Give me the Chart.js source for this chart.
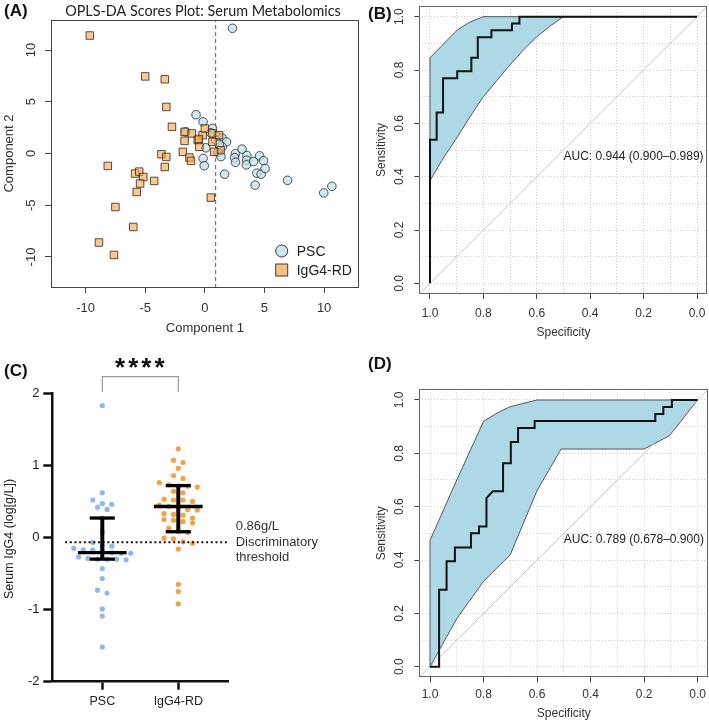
<!DOCTYPE html>
<html><head><meta charset="utf-8">
<script src="https://cdn.jsdelivr.net/npm/chart.js@4.4.0/dist/chart.umd.min.js"></script>
<style>
html,body{margin:0;padding:0;background:#fff;width:709px;height:720px;overflow:hidden;position:relative}
canvas{position:absolute}
</style></head><body>
<canvas id="cA" width="365" height="345" style="left:0;top:0"></canvas>
<canvas id="cB" width="349" height="345" style="left:360px;top:0"></canvas>
<canvas id="cC" width="360" height="380" style="left:0;top:340px"></canvas>
<canvas id="cD" width="349" height="380" style="left:360px;top:340px"></canvas>
<script>
// ---------------- DATA ----------------
// (A) OPLS-DA scores [component1, component2]
const pscScores = [[2.32,12.1],[-0.74,3.75],[-0.15,3.06],[-1.62,2.09],[0.64,2.42],[1.05,1.61],[1.45,1.5],[1.82,1.12],
  [1.46,0.64],[0.08,0.55],[1.1,0.1],[1.35,-0.3],[-0.15,-0.48],[-0.05,-1.18],[1.66,-2.0],[2.57,0.0],[3.12,0.42],
  [2.5,-0.4],[2.57,-0.85],[3.53,-0.2],[3.5,-0.65],[3.48,-1.1],[4.09,-0.78],[4.59,-0.23],[4.92,-0.7],[4.36,-1.9],
  [4.72,-2.0],[5.05,-1.45],[4.22,-3.05],[6.93,-2.59],[9.97,-3.81],[10.65,-3.17],[0.9,1.3],[1.2,0.9],[0.5,2.0]];
const igg4Scores = [[-9.65,11.4],[-5.0,7.45],[-3.36,7.17],[-3.23,4.5],[-2.76,2.58],[-1.7,2.09],[-1.1,1.94],[-0.19,1.77],
  [-0.6,1.29],[-0.5,1.4],[-1.7,1.22],[0.0,2.42],[0.64,1.94],[1.19,1.77],[0.64,1.12],[1.32,0.32],[0.78,0.16],
  [-0.46,0.64],[-1.85,0.16],[-1.29,-0.39],[-1.16,-0.71],[-3.64,-0.07],[-3.23,-0.33],[-3.36,-1.3],[-8.14,-1.2],
  [-5.85,-1.94],[-5.5,-1.75],[-5.16,-2.27],[-5.43,-2.9],[-4.25,-2.65],[-5.71,-3.72],[0.5,-4.26],[-7.5,-5.17],
  [-6.0,-7.1],[-8.88,-8.6],[-7.62,-9.8]];
const scoreTicks = [-10, -5, 0, 5, 10];
const scoreCutoffX = 0.9;

// (B) ROC serum metabolomics: [specificity, sensitivity]
const rocB = [[1,0],[1,0.538],[0.975,0.538],[0.975,0.641],[0.951,0.641],[0.951,0.769],[0.898,0.769],[0.898,0.795],
  [0.845,0.795],[0.845,0.846],[0.821,0.846],[0.821,0.923],[0.77,0.923],[0.77,0.949],[0.693,0.949],[0.693,0.974],
  [0.665,0.974],[0.665,1.0],[0,1.0]];
const ciB_upper = [[1,0.846],[0.898,0.95],[0.85,0.98],[0.8,1.0],[0,1.0]];
const ciB_lower = [[1,0.385],[0.95,0.47],[0.9,0.545],[0.85,0.625],[0.8,0.70],[0.75,0.76],[0.7,0.82],[0.65,0.875],
  [0.6,0.925],[0.55,0.965],[0.5,1.0],[0,1.0]];
const aucB = 'AUC: 0.944 (0.900\u20130.989)';

// (D) ROC serum IgG4
const rocD = [[1,0],[0.966,0],[0.966,0.289],[0.938,0.289],[0.938,0.395],[0.907,0.395],[0.907,0.447],[0.847,0.447],
  [0.847,0.5],[0.817,0.5],[0.817,0.526],[0.789,0.526],[0.789,0.632],[0.765,0.658],[0.727,0.658],[0.727,0.763],
  [0.698,0.763],[0.698,0.842],[0.671,0.842],[0.671,0.895],[0.609,0.895],[0.609,0.921],[0.158,0.921],[0.158,0.947],
  [0.128,0.947],[0.128,0.974],[0.096,0.974],[0.096,1.0],[0,1.0]];
const ciD_upper = [[1,0.474],[0.9,0.70],[0.8,0.92],[0.74,0.956],[0.7,0.975],[0.6,1.0],[0,1.0]];
const ciD_lower = [[1,0],[0.9,0.18],[0.8,0.32],[0.7,0.42],[0.6,0.66],[0.51,0.816],[0.2,0.816],[0.105,0.866],[0,1.0]];
const aucD = 'AUC: 0.789 (0.678\u20130.900)';
const rocGrid = [0,0.1,0.2,0.3,0.4,0.5,0.6,0.7,0.8,0.9,1.0];
const rocTickLabels = ['0.0','0.2','0.4','0.6','0.8','1.0'];

// (C) serum IgG4 log10(g/L)
const groups = ['PSC', 'IgG4-RD'];
const pscIgG4 = [1.83,0.62,0.52,0.47,0.46,0.42,0.39,0.27,0.07,-0.07,-0.11,-0.12,-0.15,-0.17,-0.17,-0.18,-0.21,-0.22,
  -0.22,-0.27,-0.29,-0.30,-0.30,-0.30,-0.31,-0.43,-0.57,-0.73,-0.77,-0.99,-1.09,-1.52];
const rdIgG4 = [1.23,1.07,1.04,0.96,0.86,0.82,0.76,0.73,0.71,0.71,0.70,0.64,0.62,0.53,0.52,0.52,0.50,0.45,0.43,0.42,
  0.39,0.38,0.33,0.32,0.31,0.27,0.25,0.24,0.22,0.20,0.13,0.08,0.07,-0.01,-0.02,-0.06,-0.08,-0.16,-0.65,-0.75,-0.92];
const groupMedian = [-0.21, 0.43];
const groupLow = [-0.30, 0.08];
const groupHigh = [0.27, 0.72];
const igg4Threshold = -0.066; // log10(0.86 g/L)
const cTicks = [-2, -1, 0, 1, 2];

// ---------------- HELPERS ----------------
const FF = '"Liberation Sans", Arial, Helvetica, sans-serif';
Chart.defaults.font.family = FF;
function T(ctx, s, x, y, font, color, align, base, rot, spacing) {
  ctx.save(); ctx.translate(x, y); if (rot) ctx.rotate(rot);
  ctx.font = font; ctx.fillStyle = color || '#222';
  if (spacing) ctx.letterSpacing = spacing;
  ctx.textAlign = align || 'center'; ctx.textBaseline = base || 'middle';
  ctx.fillText(s, 0, 0); ctx.restore();
}
const fixedTicks = arr => s => { s.ticks = arr.map(v => ({value: v})); };
const pts = arr => arr.map(([x, y]) => ({x, y}));
function baseOpts(padding, scales) {
  return {responsive: false, animation: false, devicePixelRatio: 1, events: [],
    layout: {padding}, plugins: {legend: {display: false}, tooltip: {enabled: false}}, scales};
}
function swarm(values, center, bin, step) {
  const s = values.slice().sort((a, b) => b - a); const out = []; let i = 0;
  while (i < s.length) {
    const start = s[i]; const g = [];
    while (i < s.length && start - s[i] < bin) { g.push(s[i]); i++; }
    g.forEach((v, k) => out.push({x: center + (k - (g.length - 1) / 2) * step, y: v}));
  }
  return out;
}

// ---------------- (A) ----------------
new Chart(document.getElementById('cA'), {
  type: 'scatter',
  data: {datasets: [
    {data: pts(igg4Scores), pointStyle: 'rect', pointRadius: 5.3, backgroundColor: 'rgba(255,166,64,0.62)', borderColor: 'rgba(40,40,40,0.8)', borderWidth: 1},
    {data: pts(pscScores), pointStyle: 'circle', pointRadius: 4.3, backgroundColor: 'rgba(190,226,238,0.72)', borderColor: 'rgba(40,40,40,0.8)', borderWidth: 1},
    {data: [{x: scoreCutoffX, y: -13}, {x: scoreCutoffX, y: 13}], showLine: true, pointRadius: 0, borderColor: '#777', borderWidth: 1.2, borderDash: [4, 3]}
  ]},
  options: baseOpts({top: 20, right: 2, left: 0, bottom: 0}, {
    x: {type: 'linear', min: -12.9, max: 12.9, afterBuildTicks: fixedTicks(scoreTicks), afterFit: s => { s.height = 58; },
        ticks: {display: false}, grid: {drawOnChartArea: false, tickLength: 6, tickColor: '#444', tickWidth: 1}, border: {display: false}},
    y: {type: 'linear', min: -12.9, max: 12.9, afterBuildTicks: fixedTicks(scoreTicks), afterFit: s => { s.width = 51; },
        ticks: {display: false}, grid: {drawOnChartArea: false, tickLength: 6, tickColor: '#444', tickWidth: 1}, border: {display: false}}
  }),
  plugins: [{id: 'decA', afterDraw(ch) {
    const c = ch.ctx, a = ch.chartArea, xs = ch.scales.x, ys = ch.scales.y;
    c.save(); c.strokeStyle = '#444'; c.lineWidth = 1;
    c.strokeRect(Math.round(a.left) + 0.5, Math.round(a.top) + 0.5, Math.round(a.right - a.left) - 1, Math.round(a.bottom - a.top)); c.restore();
    const f = '13px ' + FF;
    scoreTicks.forEach(v => {
      T(c, String(v), xs.getPixelForValue(v), a.bottom + 21.3, f, '#333');
      T(c, String(v), a.left - 19.3, ys.getPixelForValue(v), f, '#333', 'center', 'middle', -Math.PI / 2);
    });
    T(c, 'Component 1', (a.left + a.right) / 2, 328, f, '#333');
    T(c, 'Component 2', 9, (a.top + a.bottom) / 2, f, '#333', 'center', 'middle', -Math.PI / 2);
    T(c, 'OPLS-DA Scores Plot: Serum Metabolomics', 203, 11, '14.4px Lato, ' + FF, '#222');
    T(c, '(A)', 4, 11, 'bold 17px ' + FF, '#111', 'left');
    // legend
    c.save(); c.lineWidth = 1; c.strokeStyle = 'rgba(40,40,40,0.9)';
    c.fillStyle = 'rgba(190,226,238,0.8)'; c.beginPath(); c.arc(281.7, 251, 6, 0, Math.PI * 2); c.fill(); c.stroke();
    c.fillStyle = 'rgba(255,166,64,0.7)'; c.fillRect(275.7, 264, 12, 12); c.strokeRect(275.7, 264, 12, 12); c.restore();
    T(c, 'PSC', 296.7, 252, '14px ' + FF, '#222', 'left');
    T(c, 'IgG4-RD', 296.7, 271, '14px ' + FF, '#222', 'left');
  }}]
});

// ---------------- ROC builder ----------------
function makeROC(id, roc, up, lo, auc, label, pad, xH, lab) {
  const poly = pts(up).concat(pts(lo).reverse()); poly.push(poly[0]);
  const major = v => Math.abs(Math.round(v * 10) % 2) === 0;
  const gridOpt = {color: '#cfcfcf', lineWidth: 1, drawOnChartArea: true, drawTicks: true, tickLength: 5,
    tickColor: c => (c.tick && major(c.tick.value)) ? '#444' : 'rgba(0,0,0,0)', tickWidth: 1, tickBorderDash: []};
  new Chart(document.getElementById(id), {
    type: 'scatter',
    data: {datasets: [
      {data: pts(roc), showLine: true, pointRadius: 0, borderColor: '#111', borderWidth: 2},
      {data: [{x: 1.04, y: -0.04}, {x: -0.04, y: 1.04}], showLine: true, pointRadius: 0, borderColor: '#c4c4c4', borderWidth: 1},
      {data: poly, showLine: true, pointRadius: 0, borderColor: '#333', borderWidth: 0.8, fill: 'shape', backgroundColor: '#ADD8E6'}
    ]},
    options: baseOpts(pad, {
      x: {type: 'linear', reverse: true, min: -0.04, max: 1.04, afterBuildTicks: fixedTicks(rocGrid), afterFit: s => { s.height = xH; },
          ticks: {display: false}, grid: gridOpt, border: {display: false, dash: [1, 2]}},
      y: {type: 'linear', min: -0.04, max: 1.04, afterBuildTicks: fixedTicks(rocGrid), afterFit: s => { s.width = 59.3; },
          ticks: {display: false}, grid: gridOpt, border: {display: false, dash: [1, 2]}}
    }),
    plugins: [{id: 'dec' + id, afterDraw(ch) {
      const c = ch.ctx, a = ch.chartArea, xs = ch.scales.x, ys = ch.scales.y;
      c.save(); c.strokeStyle = '#666'; c.lineWidth = 1;
      c.strokeRect(Math.round(a.left) + 0.5, Math.round(a.top) + 0.5, Math.round(a.right - a.left) - 1, Math.round(a.bottom - a.top) - 1); c.restore();
      const f = '12px ' + FF;
      rocTickLabels.forEach(t => {
        const v = parseFloat(t);
        T(c, t, xs.getPixelForValue(v), a.bottom + lab.xt, f, '#333');
        T(c, t, a.left - 19.3, ys.getPixelForValue(v), f, '#333', 'center', 'middle', -Math.PI / 2);
      });
      T(c, 'Specificity', (a.left + a.right) / 2, a.bottom + lab.xl, f, '#333');
      T(c, 'Sensitivity', a.left - 37.6, (a.top + a.bottom) / 2, f, '#333', 'center', 'middle', -Math.PI / 2);
      T(c, auc, xs.getPixelForValue(0.5), ys.getPixelForValue(0.475), f, '#222', 'left');
      T(c, label, 8, lab.ly, 'bold 17px ' + FF, '#111', 'left');
    }}]
  });
}
makeROC('cB', rocB, ciB_upper, ciB_lower, aucB, '(B)', {top: 6, right: 1.3, left: 0, bottom: 0}, 51, {xt: 19.3, xl: 39, ly: 14});
makeROC('cD', rocD, ciD_upper, ciD_lower, aucD, '(D)', {top: 49.3, right: 0.7, left: 0, bottom: 0}, 42.6, {xt: 17.6, xl: 35.9, ly: 24});

// ---------------- (C) ----------------
const seg = (x1, y1, x2, y2, w) => ({data: [{x: x1, y: y1}, {x: x2, y: y2}], showLine: true, pointRadius: 0, borderColor: '#000', borderWidth: w, clip: false});
const sumSets = [];
[0, 1].forEach(g => {
  sumSets.push(seg(g - 0.32, groupMedian[g], g + 0.32, groupMedian[g], 3.3));
  sumSets.push(seg(g, groupLow[g], g, groupHigh[g], 4));
  sumSets.push(seg(g - 0.165, groupLow[g], g + 0.165, groupLow[g], 3.3));
  sumSets.push(seg(g - 0.165, groupHigh[g], g + 0.165, groupHigh[g], 3.3));
});
new Chart(document.getElementById('cC'), {
  type: 'scatter',
  data: {datasets: sumSets.concat([
    {data: [{x: -0.49, y: igg4Threshold}, {x: 1.658, y: igg4Threshold}], showLine: true, pointRadius: 0, borderColor: '#111', borderWidth: 2.2, borderDash: [2, 2.7]},
    {data: swarm(rdIgG4, 1, 0.075, 0.125), pointRadius: 2.6, backgroundColor: '#F8A23F', borderWidth: 0},
    {data: swarm(pscIgG4, 0, 0.075, 0.125), pointRadius: 2.6, backgroundColor: '#8CB8F2', borderWidth: 0}
  ])},
  options: baseOpts({top: 53.3, right: 131.7, left: 0, bottom: 0}, {
    x: {type: 'linear', min: -0.658, max: 1.658, afterBuildTicks: fixedTicks([0, 1]), afterFit: s => { s.height = 38.3; },
        ticks: {display: false}, grid: {drawOnChartArea: false, tickLength: 8, tickColor: '#111', tickWidth: 2.5}, border: {display: true, color: '#111', width: 2.5}},
    y: {type: 'linear', min: -2, max: 2, afterBuildTicks: fixedTicks(cTicks), afterFit: s => { s.width = 52.3; },
        ticks: {display: false}, grid: {drawOnChartArea: false, tickLength: 9, tickColor: '#111', tickWidth: 2.5}, border: {display: true, color: '#111', width: 2.5}}
  }),
  plugins: [{id: 'decC', afterDraw(ch) {
    const c = ch.ctx, a = ch.chartArea, xs = ch.scales.x, ys = ch.scales.y;
    const f = '13px ' + FF;
    cTicks.forEach(v => T(c, String(v), 39.5, ys.getPixelForValue(v), f, '#222', 'right'));
    groups.forEach((g, i) => T(c, g, xs.getPixelForValue(i), a.bottom + 20, '12.5px ' + FF, '#222'));
    T(c, 'Serum IgG4 (log[g/L])', 10, 199, '12.5px ' + FF, '#222', 'center', 'middle', -Math.PI / 2);
    const ty = ys.getPixelForValue(igg4Threshold);
    T(c, '0.86g/L', 235.7, ty - 16, f, '#333', 'left');
    T(c, 'Discriminatory', 235.7, ty + 0.6, f, '#333', 'left');
    T(c, 'threshold', 235.7, ty + 15.6, f, '#333', 'left');
    // significance bracket
    const x0 = xs.getPixelForValue(0), x1 = xs.getPixelForValue(1);
    c.save(); c.strokeStyle = '#999'; c.lineWidth = 1.2; c.beginPath();
    c.moveTo(x0, 51.7); c.lineTo(x0, 36.7); c.lineTo(x1, 36.7); c.lineTo(x1, 51.7); c.stroke(); c.restore();
    T(c, '****', (x0 + x1) / 2 + 1, 36, 'bold 26px ' + FF, '#111', 'center', 'alphabetic', 0, '3px');
    T(c, '(C)', 4, 31, 'bold 17px ' + FF, '#111', 'left');
  }}]
});
</script>
</body></html>
